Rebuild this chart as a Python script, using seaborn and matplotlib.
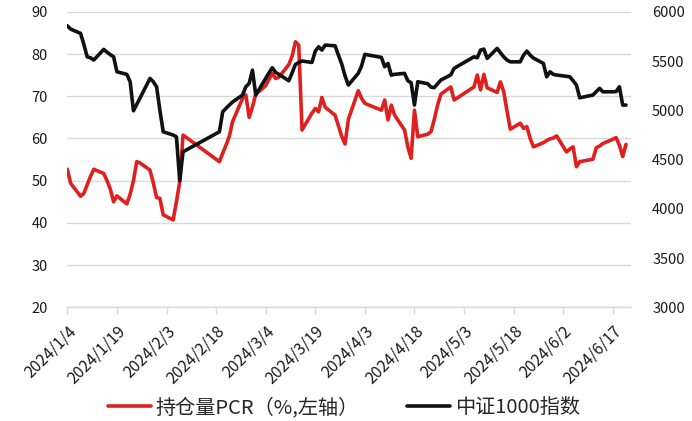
import matplotlib
matplotlib.use("Agg")
import matplotlib.pyplot as plt
import seaborn as sns
import pandas as pd
import numpy as np

# Trading days (2024)
jan = [4, 5, 8, 9, 10, 11, 12, 15, 16, 17, 18, 19, 22, 23, 24, 25, 26, 29, 30, 31]
feb = [1, 2, 5, 6, 7, 8, 19, 20, 21, 22, 23, 26, 27, 28, 29]
mar = [1, 4, 5, 6, 7, 8, 11, 12, 13, 14, 15, 18, 19, 20, 21, 22, 25, 26, 27, 28, 29]
apr = [1, 2, 3, 8, 9, 10, 11, 12, 15, 16, 17, 18, 19, 22, 23, 24, 25, 26, 29, 30]
may = [6, 7, 8, 9, 10, 13, 14, 15, 16, 17, 20, 21, 22, 23, 24, 27, 28, 29, 30, 31]
jun = [3, 4, 5, 6, 7, 11, 12, 13, 14, 17, 18, 19, 20, 21]

# Open-interest PCR (%), left axis
pcr = [52.7, 49.4, 46.3, 47.0, 49.0, 51.0, 52.7, 51.7, 50.0, 48.0, 45.0, 46.4, 44.5, 46.8, 50.0, 54.5, 54.2, 52.5, 49.5, 46.0,
       45.8, 41.9, 40.7, 45.0, 49.7, 60.8, 54.5, 56.5, 58.4, 60.5, 64.0, 69.5, 70.3, 65.0, 67.5,
       70.5, 72.5, 74.0, 75.4, 74.2, 74.5, 77.5, 79.5, 82.9, 82.1, 62.0, 66.0, 67.1, 66.3, 69.7, 67.4, 65.5, 63.0, 60.5, 58.7, 64.5,
       71.3, 69.5, 68.3, 66.7, 69.1, 64.4, 67.9, 65.5, 62.0, 58.0, 55.3, 66.7, 60.4, 61.0, 61.6, 64.5, 67.9, 70.5, 72.2, 69.1,
       72.2, 75.0, 71.5, 75.2, 72.0, 70.9, 73.4, 71.1, 66.5, 62.2, 63.6, 62.4, 62.8, 60.0, 58.0, 59.0, 59.5, 59.9, 60.1, 60.6,
       56.8, 57.5, 58.0, 53.3, 54.5, 55.1, 57.8, 58.2, 58.8, 59.8, 60.2, 58.4, 55.7, 58.6]

# CSI 1000 index close, right axis
csi1000 = [5858, 5824, 5781, 5670, 5543, 5533, 5510, 5618, 5590, 5565, 5543, 5391, 5365, 5290, 4995, 5060, 5125, 5324, 5290, 5239,
           5000, 4782, 4749, 4731, 4285, 4579, 4782, 4985, 5020, 5053, 5085, 5155, 5239, 5273, 5408,
           5155, 5324, 5380, 5432, 5385, 5365, 5300, 5380, 5466, 5485, 5500, 5486, 5600, 5645, 5611, 5662, 5655, 5560, 5470, 5350, 5256,
           5375, 5450, 5568, 5537, 5442, 5476, 5357, 5365, 5375, 5300, 5280, 5053, 5290, 5270, 5235, 5230, 5270, 5307, 5360, 5426,
           5543, 5533, 5611, 5621, 5527, 5628, 5585, 5543, 5510, 5492, 5492, 5560, 5601, 5560, 5530, 5476, 5340, 5391, 5365, 5358,
           5345, 5340, 5300, 5256, 5127, 5155, 5190, 5223, 5188, 5188, 5190, 5239, 5053, 5053]

pcr_label = "持仓量PCR（%,左轴）"
idx_label = "中证1000指数"

dates = [pd.Timestamp(2024, m, d) for m, days in
         zip([1, 2, 3, 4, 5, 6], [jan, feb, mar, apr, may, jun]) for d in days]
df = pd.DataFrame({"date": dates, "pcr": pcr, "csi1000": csi1000})

sns.set_theme(style="white")
plt.rcParams["font.family"] = ["Noto Sans CJK SC", "DejaVu Sans"]

fig = plt.figure(figsize=(6.92, 4.21), dpi=100)
ax = fig.add_axes([0.0973, 0.270, 0.815, 0.702])
ax2 = ax.twinx()

red = "#e0201f"
black = "#111111"
grid_c = "#d9d9d9"
text_c = "#1a1a1a"

sns.lineplot(data=df, x="date", y="pcr", ax=ax, color=red, linewidth=2.6,
             label=pcr_label, legend=False)
sns.lineplot(data=df, x="date", y="csi1000", ax=ax2, color=black, linewidth=2.6,
             label=idx_label, legend=False)

start = pd.Timestamp(2024, 1, 4)
ax.set_xlim(start, start + pd.Timedelta(days=170.6))
ax.set_ylim(20, 90)
ax.set_yticks(np.arange(20, 91, 10))
ax2.set_ylim(3000, 6000)
ax2.set_yticks(np.arange(3000, 6001, 500))

xticks = pd.date_range(start, periods=12, freq="15D")
ax.set_xticks(xticks)
ax.set_xticklabels([f"{t.year}/{t.month}/{t.day}" for t in xticks],
                   rotation=45, ha="right", rotation_mode="anchor", fontsize=11.5)

ax.yaxis.grid(True, color=grid_c, linewidth=1)
ax.xaxis.grid(False)
ax2.grid(False)
ax.set_axisbelow(True)

for a in (ax, ax2):
    for s in ("top", "left", "right", "bottom"):
        a.spines[s].set_visible(False)
ax.spines["bottom"].set_visible(True)
ax.spines["bottom"].set_color(grid_c)
ax.spines["bottom"].set_linewidth(1)

ax.tick_params(axis="x", bottom=True, length=5, width=1, color=grid_c,
               labelcolor=text_c, pad=6)
ax.tick_params(axis="y", left=False, labelsize=10.5, labelcolor=text_c, pad=8)
ax2.tick_params(axis="y", right=False, labelsize=10.5, labelcolor=text_c, pad=9)
ax.set_xlabel("")
ax.set_ylabel("")
ax2.set_ylabel("")

h1, l1 = ax.get_legend_handles_labels()
h2, l2 = ax2.get_legend_handles_labels()
fig.legend(h1 + h2, l1 + l2, loc="center", ncol=2, frameon=False,
           bbox_to_anchor=(0.497, 0.031), fontsize=14.5, handlelength=2.1,
           handletextpad=0.25, columnspacing=2.4, borderaxespad=0)

fig.savefig("out.png", dpi=100)
